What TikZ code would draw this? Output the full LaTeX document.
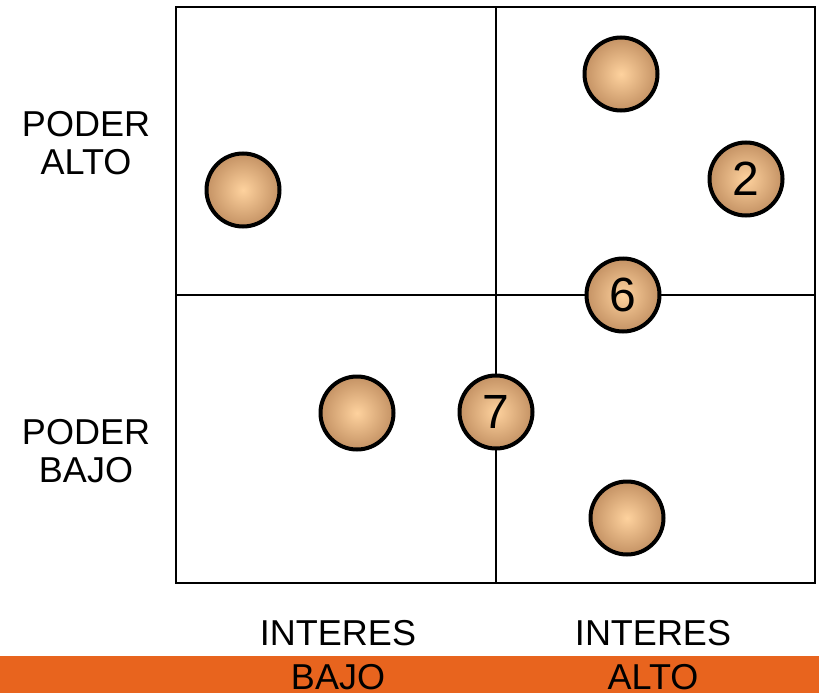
\documentclass[tikz,border=0pt]{standalone}
\usepackage{fontspec}
\setmainfont{Liberation Sans}
\definecolor{barorange}{RGB}{232,100,30}
\definecolor{ballin}{RGB}{254,210,158}
\definecolor{ballout}{RGB}{196,146,100}
\begin{document}
\begin{tikzpicture}[x=1pt,y=-1pt,
  gridline/.style={line width=2pt},
  ball/.style={circle,minimum size=73pt,inner sep=0pt,line width=4pt,draw=black,
    inner color=ballin,outer color=ballout,font=\fontsize{48}{48}\selectfont},
  label/.style={font=\fontsize{36}{38}\selectfont,align=center,inner sep=0pt}]
\useasboundingbox (0,0) rectangle (819,693);
\fill[barorange] (0,656) rectangle (819,693);
% quadrant grid
\draw[gridline] (176,7) rectangle (815,583);
\draw[gridline] (496,7) -- (496,583);
\draw[gridline] (176,295) -- (815,295);
% axis labels
\node[label] (pa) at (86,143) {PODER\\ALTO};
\node[label] (pb) at (86,451) {PODER\\BAJO};
\node[label,anchor=base] (ib) at (338,645) {INTERES};
\node[label,anchor=base] (ia) at (653,645) {INTERES};
\node[label,anchor=base] (bb) at (338,689) {BAJO};
\node[label,anchor=base] (ba) at (653,689) {ALTO};
% stakeholders
\node[ball] (s1) at (621,74) {};
\node[ball] (s2) at (746,179) {2};
\node[ball] (s3) at (243,190) {};
\node[ball] (s6) at (623,295) {6};
\node[ball] (s5) at (357,413) {};
\node[ball] (s7) at (496,412) {7};
\node[ball] (s4) at (627,518) {};
\end{tikzpicture}
\end{document}
